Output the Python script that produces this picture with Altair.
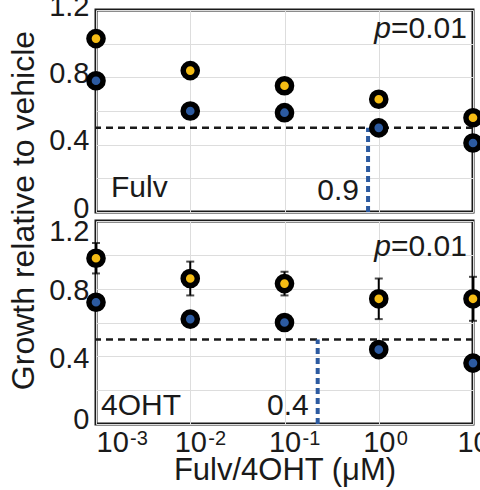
import altair as alt
import pandas as pd

# ---- data ----
conc = [0.001, 0.01, 0.1, 1, 10]
xtick_base = "10"
xtick_exps = ["-3", "-2", "-1", "0", "1"]
y_ticks = [0, 0.2, 0.4, 0.6, 0.8, 1.0, 1.2]
y_labels = ["0", "0.4", "0.8", "1.2"]
series_names = ["Series A", "Series B"]
series_colors = ["#F5BC14", "#2C5AA0"]

fulv_a = [1.03, 0.84, 0.75, 0.67, 0.56]
fulv_b = [0.78, 0.60, 0.59, 0.50, 0.41]

oht_a = [0.98, 0.86, 0.83, 0.74, 0.74]
oht_a_err = [0.09, 0.10, 0.07, 0.12, 0.13]
oht_b = [0.72, 0.62, 0.60, 0.44, 0.36]
oht_b_err = [0.02, 0.02, 0.02, 0.02, 0.045]

threshold = 0.5
fulv_ic50 = 0.77
fulv_ic50_label = "0.9"
oht_ic50 = 0.225
oht_ic50_label = "0.4"
p_text = "=0.01"

FONT = "Liberation Sans"
TXT = "#1a1a1a"
FS = 30
LFS = 29
W = 377
H_TOP = 202
H_BOT = 203
GAP = 9

ylabel_expr = "indexof([" + ",".join(f"'{l}'" for l in y_labels) + "], datum.label) >= 0 ? datum.label : ''"

xscale = alt.Scale(type="log", domain=[conc[0], conc[-1]])
yscale = alt.Scale(domain=[0, 1.2])


def panel(name, a, b, a_err, b_err, ic_pos, ic_lab, bottom, h, name_x, name_y, p_y, ic_y):
    rows = []
    for i, c in enumerate(conc):
        rows.append(dict(conc=c, value=a[i], series=series_names[0],
                         lo=a[i] - (a_err[i] if a_err else 0), hi=a[i] + (a_err[i] if a_err else 0)))
        rows.append(dict(conc=c, value=b[i], series=series_names[1],
                         lo=b[i] - (b_err[i] if b_err else 0), hi=b[i] + (b_err[i] if b_err else 0)))
    df = pd.DataFrame(rows)

    if bottom:
        xaxis = alt.Axis(values=conc, grid=True, labelExpr=f"'{xtick_base}'",
                         labelAlign={"condition": {"test": f"datum.value <= {conc[0]}", "value": "left"},
                                     "value": "center"},
                         labelPadding=4, title="Fulv/4OHT (μM)", titleY=55,
                         titleBaseline="alphabetic", titleFontSize=31)
        yaxis = alt.Axis(values=y_ticks, grid=True, labelExpr=ylabel_expr, format="~g",
                         labelPadding=7, title="",
                         labelOffset={"condition": [
                             {"test": "datum.value >= 1.15", "value": 10},
                             {"test": "datum.value <= 0.05", "value": -5}],
                             "value": 2})
    else:
        xaxis = alt.Axis(values=conc, grid=True, labels=False, title="")
        yaxis = alt.Axis(values=y_ticks, grid=True, labelExpr=ylabel_expr, format="~g",
                         labelPadding=7, labelOffset=-4, title="Growth relative to vehicle",
                         titleX=-63, titleY=200, titleAngle=-90, titleAlign="center",
                         titleBaseline="alphabetic", titleFontSize=32)

    def X(f):
        return alt.X(f, scale=xscale, axis=xaxis)

    def Y(f):
        return alt.Y(f, scale=yscale, axis=yaxis)

    base = alt.Chart(df)

    thr = alt.Chart(pd.DataFrame({"t": [threshold]})).mark_rule(
        strokeDash=[7, 5], strokeWidth=2.5, color=TXT
    ).encode(y=Y("t:Q"))

    icdf = pd.DataFrame({"ic": [ic_pos], "y0": [0], "y1": [threshold], "lab": [ic_lab]})
    icr = alt.Chart(icdf).mark_rule(strokeDash=[6, 4], strokeWidth=4, color=series_colors[1]).encode(
        x=X("ic:Q"), y=Y("y0:Q"), y2="y1:Q")
    ict = alt.Chart(icdf).mark_text(align="right", baseline="alphabetic", dx=-9,
                                    fontSize=FS, font=FONT, color=TXT).encode(
        x=X("ic:Q"), y=alt.value(ic_y), text="lab:N")

    layers = [thr, icr]
    if a_err:
        err = base.mark_errorbar(ticks={"size": 8, "thickness": 2}, rule={"strokeWidth": 2},
                                 color="black").encode(
            x=X("conc:Q"), y=Y("lo:Q"), y2="hi:Q")
        layers.append(err)

    pts = base.mark_circle(size=200, opacity=1, stroke="black", strokeWidth=5.5).encode(
        x=X("conc:Q"),
        y=Y("value:Q"),
        color=alt.Color("series:N", scale=alt.Scale(domain=series_names, range=series_colors),
                        legend=None),
    )
    layers.append(pts)
    layers.append(ict)

    tdf = pd.DataFrame({"lab": [name], "p": ["p"], "pv": [p_text]})
    t_name = alt.Chart(tdf).mark_text(align="left", baseline="alphabetic", fontSize=FS,
                                      font=FONT, color=TXT).encode(
        x=alt.value(name_x), y=alt.value(name_y), text="lab:N")
    t_pv = alt.Chart(tdf).mark_text(align="right", baseline="alphabetic", fontSize=FS,
                                    font=FONT, color=TXT).encode(
        x=alt.value(W - 6), y=alt.value(p_y), text="pv:N")
    t_p = alt.Chart(tdf).mark_text(align="right", baseline="alphabetic", fontSize=FS,
                                   font=FONT, color=TXT, fontStyle="italic").encode(
        x=alt.value(W - 6 - 76), y=alt.value(p_y), text="p:N")
    layers += [t_name, t_pv, t_p]

    if bottom:
        edf = pd.DataFrame({"conc": conc, "exp": xtick_exps})
        ebase = alt.Chart(edf)
        e_first = ebase.transform_filter(alt.datum.conc <= conc[0]).mark_text(
            align="left", baseline="alphabetic", fontSize=20, font=FONT, color=TXT, dx=34
        ).encode(x=X("conc:Q"), y=alt.value(h + 21), text="exp:N")
        e_rest = ebase.transform_filter(alt.datum.conc > conc[0]).mark_text(
            align="left", baseline="alphabetic", fontSize=20, font=FONT, color=TXT, dx=18
        ).encode(x=X("conc:Q"), y=alt.value(h + 21), text="exp:N")
        layers += [e_first, e_rest]

    return alt.layer(*layers).properties(width=W, height=h)


top = panel("Fulv", fulv_a, fulv_b, None, None, fulv_ic50, fulv_ic50_label, False, H_TOP,
            15, 187, 28, 190)
bot = panel("4OHT", oht_a, oht_b, oht_a_err, oht_b_err, oht_ic50, oht_ic50_label, True, H_BOT,
            5, 194, 35, 194)

# autosize "none": the top-left plot corner sits exactly at (left, top) padding;
# the page size is width + left/right padding and the padding height.
chart = alt.vconcat(top, bot, spacing=GAP, bounds="flush").properties(
    autosize=alt.AutoSizeParams(type="none"),
    padding={"left": 96, "top": 10, "right": 480 - 96 - W, "bottom": 480}
).configure(font=FONT).configure_view(
    stroke=TXT, strokeWidth=3
).configure_axis(
    labelFont=FONT, labelFontSize=LFS, labelColor=TXT, titleFont=FONT, titleFontSize=29,
    titleColor=TXT, titleFontWeight="normal", ticks=False, domain=False,
    gridColor="#dddddd", gridWidth=1
)

chart.save("out.html", embed_options={"renderer": "svg", "actions": False})
